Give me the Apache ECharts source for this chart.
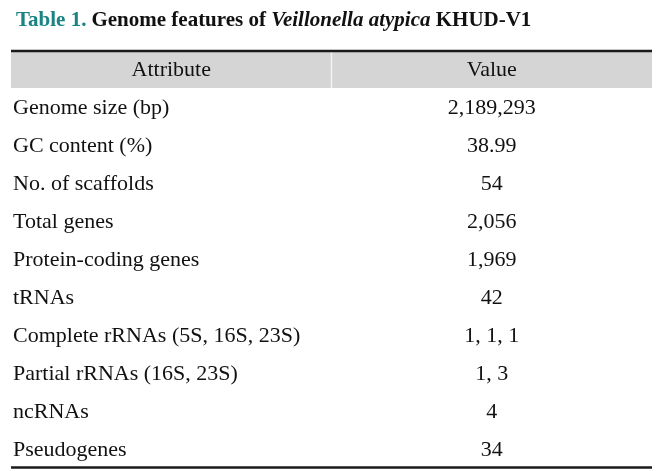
<!DOCTYPE html>
<html><head><meta charset="utf-8">
<script src="https://cdn.jsdelivr.net/npm/echarts@6/dist/echarts.min.js"></script>
<style>html,body{margin:0;padding:0;background:#fff}#c{width:672px;height:471px}</style>
</head><body><div id="c"></div>
<script>
const headers = ['Attribute', 'Value'];
const attributes = ['Genome size (bp)', 'GC content (%)', 'No. of scaffolds', 'Total genes', 'Protein-coding genes', 'tRNAs', 'Complete rRNAs (5S, 16S, 23S)', 'Partial rRNAs (16S, 23S)', 'ncRNAs', 'Pseudogenes'];
const values = ['2,189,293', '38.99', '54', '2,056', '1,969', '42', '1, 1, 1', '1, 3', '4', '34'];

const rows = [headers[0]].concat(attributes);
const data = rows.map((r, i) => [i, i === 0 ? headers[1] : values[i - 1], r]);
const FONT = '"Liberation Serif", "Times New Roman", serif';
const FS = 22;

const chart = echarts.init(document.getElementById('c'));
chart.setOption({
  animation: false,
  title: {
    left: 11, top: 5,
    text: '{a|Table 1.} {b|Genome features of }{i|Veillonella atypica}{b| KHUD-V1}',
    textStyle: {
      rich: {
        a: {fontFamily: FONT, fontWeight: 'bold', fontSize: 21, color: '#1b8383'},
        b: {fontFamily: FONT, fontWeight: 'bold', fontSize: 21, color: '#111'},
        i: {fontFamily: FONT, fontWeight: 'bold', fontStyle: 'italic', fontSize: 21, color: '#111'}
      }
    }
  },
  grid: {left: 11, right: 20, top: 51, bottom: 2},
  xAxis: {type: 'value', min: 0, max: 1, show: false},
  yAxis: {type: 'category', data: rows, inverse: true, show: false},
  series: [{
    type: 'custom',
    data: data,
    encode: {y: 0},
    renderItem: function (params, api) {
      const i = api.value(0);
      const p0 = api.coord([0, i]);
      const p1 = api.coord([1, i]);
      const pm = api.coord([0.5, i]);
      const pv = api.coord([0.75, i]);
      const h = api.size([0, 1])[1];
      const top = p0[1] - h / 2;
      const children = [];
      if (i === 0) {
        children.push({type: 'rect', shape: {x: p0[0], y: top + 1, width: p1[0] - p0[0], height: h - 2}, style: {fill: '#d5d5d5'}});
        children.push({type: 'line', shape: {x1: pm[0], y1: top + 1, x2: pm[0], y2: top + h - 1}, style: {stroke: '#f2f2f2', lineWidth: 1.5}});
        children.push({type: 'line', shape: {x1: p0[0], y1: top, x2: p1[0], y2: top}, style: {stroke: '#1a1a1a', lineWidth: 2.5}});
        children.push({type: 'text', style: {text: rows[0], x: (p0[0] + pm[0]) / 2, y: p0[1], align: 'center', verticalAlign: 'middle', font: FS + 'px ' + FONT, fill: '#111'}});
      } else {
        children.push({type: 'text', style: {text: rows[i], x: p0[0] + 2, y: p0[1], align: 'left', verticalAlign: 'middle', font: FS + 'px ' + FONT, fill: '#111'}});
      }
      children.push({type: 'text', style: {text: data[i][1], x: pv[0], y: pv[1], align: 'center', verticalAlign: 'middle', font: FS + 'px ' + FONT, fill: '#111'}});
      if (i === rows.length - 1) {
        children.push({type: 'line', shape: {x1: p0[0], y1: top + h - 1.5, x2: p1[0], y2: top + h - 1.5}, style: {stroke: '#1a1a1a', lineWidth: 2.5}});
      }
      return {type: 'group', children: children};
    }
  }]
});
</script></body></html>
